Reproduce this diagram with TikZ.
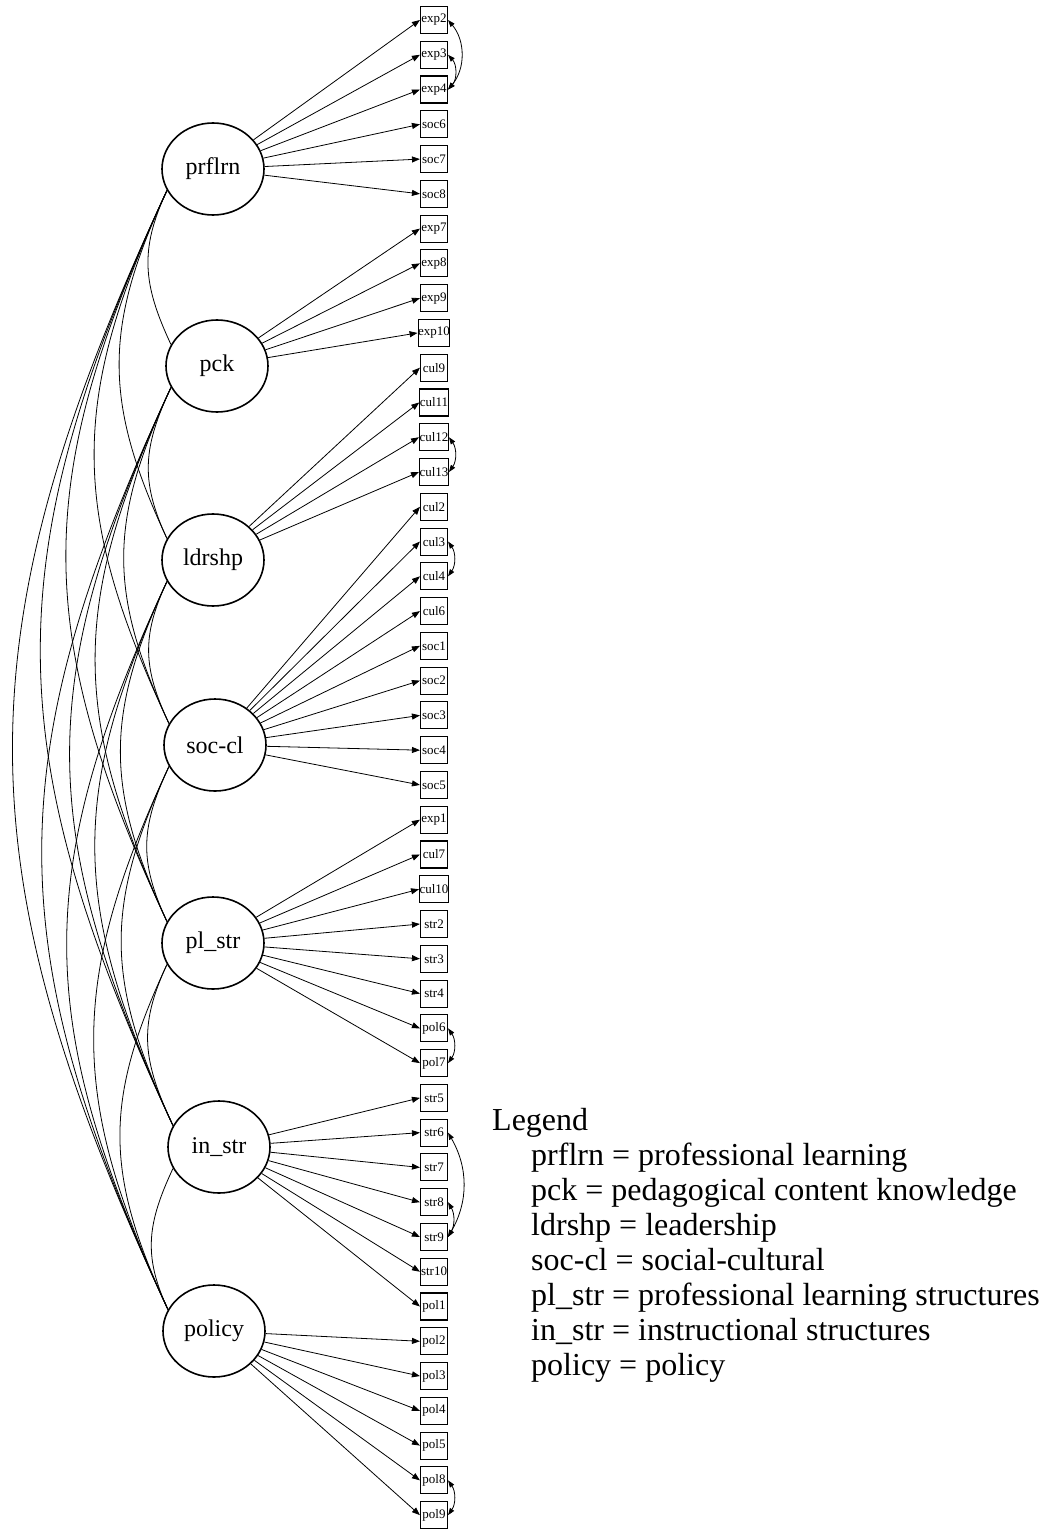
\documentclass[tikz,border=0pt]{standalone}
\usepackage{fontspec}
\setmainfont{Liberation Serif}
\usepackage{tikz}
\usetikzlibrary{arrows.meta,shapes.geometric}

\tikzset{
  latent/.style={draw,ellipse,line width=1.6pt,minimum width=102pt,minimum height=92pt,inner sep=0pt,font=\fontsize{24}{28}\selectfont},
  ind/.style={draw,line width=1.1pt,minimum size=27pt,inner sep=0pt,font=\fontsize{13}{15}\selectfont},
  load/.style={-{Triangle[length=8pt,width=6pt]},line width=0.8pt},
  errcov/.style={{Triangle[length=7pt,width=5pt]}-{Triangle[length=7pt,width=5pt]},line width=0.8pt},
  latcov/.style={line width=0.8pt},
  legline/.style={anchor=base west,inner sep=0pt,font=\fontsize{32}{35}\selectfont}
}

\begin{document}
\begin{tikzpicture}[x=1pt,y=1pt]
  \useasboundingbox (0,0) rectangle (1047,-1530);
  % latent factors
  \node[latent] (prflrn) at (213,-169)  {prflrn};
  \node[latent] (pck)    at (217,-366)  {pck};
  \node[latent] (ldrshp) at (213,-560)  {ldrshp};
  \node[latent] (soccl)  at (215,-745)  {soc-cl};
  \node[latent] (plstr)  at (213,-943)  {pl\_str};
  \node[latent] (instr)  at (219,-1147) {in\_str};
  \node[latent] (policy) at (214,-1331) {policy};
  % indicators
  \foreach \nm [count=\k from 0] in {exp2,exp3,exp4,soc6,soc7,soc8,exp7,exp8,exp9,exp10,
      cul9,cul11,cul12,cul13,cul2,cul3,cul4,cul6,soc1,soc2,soc3,soc4,soc5,
      exp1,cul7,cul10,str2,str3,str4,pol6,pol7,str5,str6,str7,str8,str9,str10,
      pol1,pol2,pol3,pol4,pol5,pol8,pol9}
    \node[ind] (\nm) at (434,{-20-34.77*\k}) {\nm};
  % loadings
  \foreach \src/\lst in {prflrn/{exp2,exp3,exp4,soc6,soc7,soc8},
      pck/{exp7,exp8,exp9,exp10},
      ldrshp/{cul9,cul11,cul12,cul13},
      soccl/{cul2,cul3,cul4,cul6,soc1,soc2,soc3,soc4,soc5},
      plstr/{exp1,cul7,cul10,str2,str3,str4,pol6,pol7},
      instr/{str5,str6,str7,str8,str9,str10,pol1},
      policy/{pol2,pol3,pol4,pol5,pol8,pol9}}
    \foreach \dst in \lst
      \draw[load] (\src) -- (\dst.west);
  % residual covariances
  \draw[errcov] (exp2.east) to[bend left=40] (exp4.east);
  \draw[errcov] (exp3.east) to[bend left=42] (exp4.east);
  \draw[errcov] (cul12.east) to[bend left=35] (cul13.east);
  \draw[errcov] (cul3.east) to[bend left=35] (cul4.east);
  \draw[errcov] (pol6.east) to[bend left=35] (pol7.east);
  \draw[errcov] (str6.east) to[bend left=30] (str9.east);
  \draw[errcov] (str8.east) to[bend left=30] (str9.east);
  \draw[errcov] (pol8.east) to[bend left=35] (pol9.east);
  % factor covariances (last value = control distance)
  \foreach \a/\b/\c in {prflrn/pck/66,prflrn/ldrshp/151,prflrn/soccl/233,prflrn/plstr/319,
      prflrn/instr/409,prflrn/policy/489,
      pck/ldrshp/65,pck/soccl/146,pck/plstr/233,pck/instr/323,pck/policy/403,
      ldrshp/soccl/61,ldrshp/plstr/147,ldrshp/instr/237,ldrshp/policy/318,
      soccl/plstr/67,soccl/instr/157,soccl/policy/236,
      plstr/instr/70,plstr/policy/150,
      instr/policy/60}
    \draw[latcov] (\a.205) .. controls +(245:\c) and +(115:\c) .. (\b.155);
  % legend
  \node[legline] (legend)  at (492,-1130) {Legend};
  \node[legline] (lprflrn) at (531,-1165) {prflrn = professional learning};
  \node[legline] (lpck)    at (531,-1200) {pck = pedagogical content knowledge};
  \node[legline] (lldrshp) at (531,-1235) {ldrshp = leadership};
  \node[legline] (lsoccl)  at (531,-1270) {soc-cl = social-cultural};
  \node[legline] (lplstr)  at (531,-1305) {pl\_str = professional learning structures};
  \node[legline] (linstr)  at (531,-1340) {in\_str = instructional structures};
  \node[legline] (lpolicy) at (531,-1375) {policy = policy};
\end{tikzpicture}
\end{document}
